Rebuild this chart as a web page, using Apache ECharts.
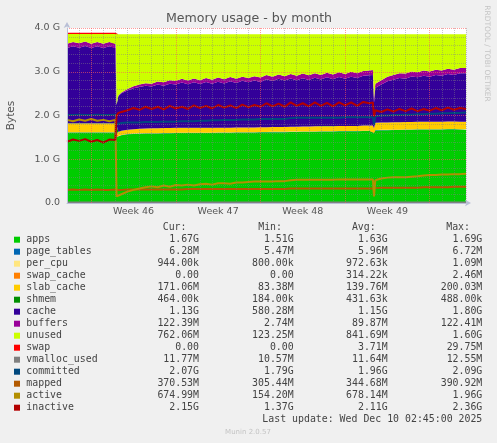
<!DOCTYPE html>
<html>
<head>
<meta charset="utf-8">
<script src="https://cdn.jsdelivr.net/npm/echarts@6/dist/echarts.min.js"></script>
<style>
html,body{margin:0;padding:0;background:#F0F0F0;}
#chart{width:497px;height:443px;}
</style>
</head>
<body>
<div id="chart"></div>
<script>
// time in days relative to Monday of week 46 (start of "Week 46")
const T = [-2,-1.5,-1,-0.5,0,0.5,1,1.5,2,2.05,2.1,2.25,2.5,3,3.5,4,4.5,5,5.5,6,6.5,7,7.5,8,8.5,9,9.5,10,10.5,11,11.5,12,12.5,13,13.5,14,14.5,15,15.5,16,16.5,17,17.5,18,18.5,19,19.5,20,20.5,21,21.5,22,22.5,23,23.3,23.39,23.5,24,24.5,25,25.5,26,26.5,27,27.5,28,28.5,29,29.5,30,30.5,31];

// values in GiB
const apps = [1.61,1.61,1.61,1.61,1.61,1.61,1.61,1.61,1.61,1.61,
  1.51,1.53,1.55,1.57,1.58,1.585,1.59,1.59,1.59,1.595,1.595,1.60,1.60,1.60,1.60,1.60,1.60,1.60,1.605,1.605,1.605,1.61,1.61,1.61,1.61,1.615,1.615,1.62,1.62,1.62,1.625,1.625,1.63,1.63,1.63,1.635,1.635,1.635,1.64,1.64,1.64,1.64,1.645,1.645,1.645,1.60,1.66,1.665,1.665,1.67,1.67,1.675,1.675,1.68,1.68,1.68,1.68,1.68,1.685,1.685,1.68,1.677];
const pageTables = [0.0065,0.0065,0.0065,0.0065,0.0065,0.0065,0.0065,0.0065,0.0065,0.0065,
  0.0055,0.0055,0.0056,0.0057,0.0057,0.0058,0.0058,0.0058,0.0058,0.0059,0.0059,0.0059,0.0059,0.0059,0.0059,0.006,0.006,0.006,0.006,0.006,0.006,0.006,0.006,0.006,0.006,0.006,0.006,0.006,0.006,0.006,0.006,0.006,0.006,0.006,0.006,0.006,0.006,0.006,0.006,0.006,0.006,0.006,0.006,0.006,0.006,0.0058,0.0062,0.0062,0.0062,0.0062,0.0062,0.0062,0.0062,0.0062,0.0063,0.0063,0.0063,0.0063,0.0063,0.0063,0.0063,0.0063];
const perCpu = [0.001,0.001,0.001,0.001,0.001,0.001,0.001,0.001,0.001,0.001,
  0.0008,0.0008,0.0009,0.0009,0.0009,0.001,0.001,0.001,0.001,0.001,0.001,0.001,0.001,0.001,0.001,0.001,0.001,0.001,0.001,0.001,0.001,0.001,0.001,0.001,0.001,0.001,0.001,0.001,0.001,0.001,0.001,0.001,0.001,0.001,0.001,0.001,0.001,0.001,0.001,0.001,0.001,0.001,0.001,0.001,0.001,0.0009,0.0009,0.0009,0.0009,0.0009,0.0009,0.0009,0.0009,0.0009,0.0009,0.0009,0.0009,0.0009,0.0009,0.0009,0.0009,0.0009];
const swapCache = [0.0024,0.0024,0.0023,0.0024,0.0024,0.0023,0.0024,0.0024,0.0024,0.0024,
  0,0,0,0,0,0,0,0,0,0,0,0,0,0,0,0,0,0,0,0,0,0,0,0,0,0,0,0,0,0,0,0,0,0,0,0,0,0,0,0,0,0,0,0,0,0,0,0,0,0,0,0,0,0,0,0,0,0,0,0,0,0];
const slabCache = [0.20,0.20,0.20,0.20,0.20,0.20,0.20,0.20,0.20,0.20,
  0.085,0.09,0.095,0.10,0.10,0.105,0.105,0.11,0.11,0.11,0.11,0.11,0.11,0.11,0.11,0.11,0.11,0.11,0.11,0.11,0.11,0.11,0.11,0.11,0.11,0.11,0.11,0.11,0.11,0.11,0.11,0.11,0.11,0.11,0.115,0.115,0.115,0.115,0.115,0.115,0.115,0.115,0.12,0.12,0.12,0.10,0.165,0.17,0.17,0.17,0.17,0.17,0.17,0.17,0.17,0.17,0.17,0.17,0.17,0.17,0.17,0.171];
const shmem = [0.0005,0.0005,0.0005,0.0005,0.0005,0.0005,0.0005,0.0005,0.0005,0.0005,
  0.0002,0.0002,0.0003,0.0003,0.0003,0.0004,0.0004,0.0004,0.0004,0.0004,0.0004,0.0004,0.0004,0.0004,0.0004,0.0004,0.0004,0.0004,0.0004,0.0004,0.0004,0.0004,0.0004,0.0004,0.0004,0.0004,0.0004,0.0004,0.0004,0.0004,0.0004,0.0004,0.0004,0.0004,0.0004,0.0004,0.0004,0.0004,0.0004,0.0004,0.0004,0.0004,0.0004,0.0004,0.0004,0.0004,0.00045,0.00045,0.00045,0.00045,0.00045,0.00045,0.00045,0.00045,0.00045,0.00045,0.00045,0.00045,0.00045,0.00045,0.00045,0.00045];
const cache = [1.72,1.76,1.73,1.77,1.72,1.76,1.72,1.76,1.73,1.71,
  0.64,0.82,0.855,0.895,0.935,0.955,0.975,0.955,1.00,0.97,1.015,0.99,1.035,0.995,1.04,1.00,1.05,1.01,1.05,1.01,1.06,1.015,1.065,1.03,1.07,1.035,1.095,1.05,1.10,1.06,1.105,1.065,1.105,1.065,1.11,1.065,1.115,1.07,1.115,1.075,1.125,1.095,1.135,1.145,1.155,0.58,0.80,0.865,0.94,0.97,1.01,0.99,1.04,1.015,1.05,1.03,1.07,1.05,1.085,1.065,1.108,1.11];
const buffers = [0.10,0.10,0.10,0.10,0.10,0.10,0.10,0.10,0.10,0.10,
  0.003,0.01,0.02,0.035,0.045,0.055,0.06,0.065,0.07,0.075,0.08,0.08,0.085,0.085,0.09,0.09,0.09,0.09,0.095,0.095,0.095,0.095,0.095,0.10,0.10,0.10,0.10,0.10,0.10,0.10,0.10,0.10,0.105,0.105,0.105,0.105,0.105,0.11,0.11,0.11,0.11,0.11,0.11,0.11,0.11,0.09,0.095,0.10,0.105,0.11,0.11,0.115,0.115,0.115,0.12,0.12,0.12,0.12,0.12,0.12,0.122,0.122];
const unused = [0.22,0.18,0.21,0.17,0.22,0.18,0.22,0.18,0.21,0.23,
  1.61,1.40,1.33,1.25,1.19,1.15,1.12,1.13,1.08,1.10,1.05,1.07,1.02,1.06,1.01,1.05,1.00,1.04,0.99,1.03,0.98,1.02,0.97,1.00,0.96,0.99,0.93,0.97,0.92,0.96,0.91,0.95,0.90,0.94,0.89,0.93,0.88,0.92,0.87,0.91,0.86,0.89,0.84,0.83,0.82,1.48,1.13,1.05,0.97,0.93,0.89,0.90,0.85,0.87,0.83,0.85,0.81,0.83,0.79,0.81,0.77,0.77];
const swap = [0.03,0.03,0.03,0.03,0.03,0.03,0.03,0.03,0.03,0.03,
  0,0,0,0,0,0,0,0,0,0,0,0,0,0,0,0,0,0,0,0,0,0,0,0,0,0,0,0,0,0,0,0,0,0,0,0,0,0,0,0,0,0,0,0,0,0,0,0,0,0,0,0,0,0,0,0,0,0,0,0,0,0];
const vmallocUsed = [0.0122,0.0122,0.0122,0.0122,0.0122,0.0122,0.0122,0.0122,0.0122,0.0122,
  0.0103,0.0104,0.0106,0.0108,0.011,0.0112,0.0113,0.0114,0.0114,0.0115,0.0115,0.0115,0.0116,0.0116,0.0116,0.0116,0.0116,0.0116,0.0116,0.0116,0.0116,0.0116,0.0116,0.0116,0.0116,0.0116,0.0116,0.0116,0.0116,0.0116,0.0116,0.0116,0.0116,0.0116,0.0116,0.0116,0.0116,0.0116,0.0116,0.0116,0.0116,0.0116,0.0116,0.0116,0.0116,0.011,0.0115,0.0115,0.0115,0.0115,0.0115,0.0115,0.0115,0.0115,0.0115,0.0115,0.0115,0.0115,0.0115,0.0115,0.0115,0.0115];
const committed = [2.01,2.01,2.02,2.01,2.01,2.02,2.01,2.01,2.02,2.01,
  1.80,1.81,1.83,1.84,1.84,1.84,1.85,1.85,1.85,1.86,1.86,1.86,1.87,1.87,1.87,1.88,1.88,1.89,1.89,1.90,1.90,1.90,1.91,1.91,1.91,1.92,1.92,1.92,1.92,1.92,1.94,1.95,1.95,1.95,1.95,1.95,1.95,1.95,1.95,1.96,1.96,1.96,1.96,1.96,1.96,1.79,1.98,2.00,2.00,2.01,2.01,2.02,2.02,2.03,2.03,2.04,2.04,2.05,2.05,2.06,2.06,2.07];
const mapped = [0.30,0.31,0.30,0.31,0.30,0.31,0.30,0.30,0.31,0.31,
  0.30,0.30,0.30,0.31,0.31,0.31,0.31,0.31,0.31,0.31,0.31,0.31,0.31,0.32,0.32,0.32,0.32,0.32,0.32,0.32,0.32,0.32,0.32,0.32,0.32,0.32,0.32,0.32,0.32,0.32,0.33,0.33,0.33,0.33,0.33,0.33,0.33,0.33,0.33,0.33,0.33,0.33,0.33,0.33,0.33,0.31,0.34,0.35,0.35,0.35,0.35,0.35,0.35,0.35,0.36,0.36,0.36,0.36,0.36,0.37,0.37,0.37];
const active = [1.90,1.87,1.91,1.88,1.92,1.88,1.90,1.87,1.90,1.90,
  0.15,0.16,0.20,0.26,0.30,0.33,0.36,0.38,0.36,0.40,0.37,0.41,0.40,0.42,0.40,0.43,0.44,0.42,0.45,0.45,0.44,0.47,0.47,0.48,0.49,0.49,0.49,0.49,0.50,0.50,0.52,0.53,0.53,0.53,0.53,0.53,0.53,0.53,0.54,0.54,0.54,0.54,0.54,0.54,0.54,0.15,0.52,0.56,0.58,0.59,0.59,0.59,0.60,0.61,0.63,0.64,0.64,0.65,0.65,0.66,0.66,0.67];
const inactive = [1.40,1.45,1.42,1.46,1.40,1.44,1.38,1.45,1.44,1.45,
  2.00,2.06,2.08,2.12,2.17,2.13,2.20,2.15,2.20,2.14,2.22,2.16,2.20,2.15,2.23,2.17,2.22,2.16,2.24,2.18,2.23,2.17,2.25,2.19,2.24,2.20,2.28,2.21,2.27,2.20,2.30,2.22,2.28,2.21,2.30,2.22,2.29,2.21,2.30,2.23,2.30,2.22,2.31,2.28,2.30,1.98,2.12,2.08,2.14,2.09,2.15,2.10,2.16,2.10,2.15,2.11,2.17,2.12,2.18,2.13,2.17,2.15];

// axis labels
const weekLabels = ['Week 46','Week 47','Week 48','Week 49'];
const yTickLabels = ['0.0','1.0 G','2.0 G','3.0 G','4.0 G'];

// legend table
const legendNames = ['apps','page_tables','per_cpu','swap_cache','slab_cache','shmem','cache','buffers','unused','swap','vmalloc_used','committed','mapped','active','inactive'];
const legendColors = ['#00CC00','#0066B3','#FFE680','#FF8000','#FFCC00','#008F00','#330099','#990099','#CCFF00','#FF0000','#808080','#00487D','#B35A00','#B38F00','#B30000'];
const curVals = ['1.67G','6.28M','944.00k','0.00','171.06M','464.00k','1.13G','122.39M','762.06M','0.00','11.77M','2.07G','370.53M','674.99M','2.15G'];
const minVals = ['1.51G','5.47M','800.00k','0.00','83.38M','184.00k','580.28M','2.74M','123.25M','0.00','10.57M','1.79G','305.44M','154.20M','1.37G'];
const avgVals = ['1.63G','5.96M','972.63k','314.22k','139.76M','431.63k','1.15G','89.87M','841.69M','3.71M','11.64M','1.96G','344.68M','678.14M','2.11G'];
const maxVals = ['1.69G','6.72M','1.09M','2.46M','200.03M','488.00k','1.80G','122.41M','1.60G','29.75M','12.55M','2.09G','390.92M','1.96G','2.36G'];
const colHeaders = ['Cur:','Min:','Avg:','Max:'];

const areaData = [apps,pageTables,perCpu,swapCache,slabCache,shmem,cache,buffers,unused,swap];
const lineData = [vmallocUsed,committed,mapped,active,inactive];

const chart = echarts.init(document.getElementById('chart'), null, {renderer:'canvas'});

const G = 'rgba(130,130,130,0.45)';
const R = 'rgba(255,90,90,0.6)';
const TR = 'rgba(0,0,0,0)';

const series = [];
areaData.forEach((arr, k) => {
  // value first so that the stack is applied to the value dimension (y)
  series.push({
    name: legendNames[k], type:'line', stack:'mem', stackStrategy:'all', symbol:'none', showSymbol:false,
    data: T.map((t,i)=>[arr[i], t]),
    encode:{x:1, y:0},
    lineStyle:{width:0}, areaStyle:{color:legendColors[k], opacity:1},
    itemStyle:{color:legendColors[k]}, z:2, silent:true
  });
});
lineData.forEach((arr, k) => {
  const idx = 10 + k;
  series.push({
    name: legendNames[idx], type:'line', symbol:'none', showSymbol:false,
    data: T.map((t,i)=>[t, arr[i]]),
    lineStyle:{width:2, color:legendColors[idx]}, itemStyle:{color:legendColors[idx]}, z:2, silent:true
  });
});

const FONT = 'DejaVu Sans, sans-serif';
const MONO = 'DejaVu Sans Mono, monospace';
const TXT = '#444';

const graphics = [];
graphics.push({type:'text', x:249, y:19, style:{text:'Memory usage - by month', font:'12.6px '+FONT, fill:'#555', align:'center', verticalAlign:'middle', textAlign:'center', textVerticalAlign:'middle'}});
graphics.push({type:'text', x:11, y:115.5, rotation:Math.PI/2, style:{text:'Bytes', font:'10.5px '+FONT, fill:'#555', align:'center', verticalAlign:'middle', textAlign:'center', textVerticalAlign:'middle'}});
graphics.push({type:'text', x:487, y:53.5, rotation:-Math.PI/2, style:{text:'RRDTOOL / TOBI OETIKER', font:'7.5px '+FONT, fill:'#c4c4c4', align:'center', verticalAlign:'middle', textAlign:'center', textVerticalAlign:'middle'}});

const colRight = [199, 293.7, 387.7, 482.3];
const headRight = [186.5, 282, 375.7, 470];
colHeaders.forEach((h, c) => {
  graphics.push({type:'text', x:headRight[c], y:227.7, style:{text:h, font:'9.9px '+MONO, fill:TXT, align:'right', verticalAlign:'middle', textAlign:'right', textVerticalAlign:'middle'}});
});
const cols = [curVals, minVals, avgVals, maxVals];
legendNames.forEach((n, i) => {
  const y = 239.7 + 12 * i;
  graphics.push({type:'rect', shape:{x:14, y:y-3, width:6, height:6}, style:{fill:legendColors[i]}});
  graphics.push({type:'text', x:26.3, y:y, style:{text:n, font:'9.9px '+MONO, fill:TXT, align:'left', verticalAlign:'middle', textAlign:'left', textVerticalAlign:'middle'}});
  cols.forEach((col, c) => {
    graphics.push({type:'text', x:colRight[c], y:y, style:{text:col[i], font:'9.9px '+MONO, fill:TXT, align:'right', verticalAlign:'middle', textAlign:'right', textVerticalAlign:'middle'}});
  });
});
graphics.push({type:'text', x:482.3, y:419.3, style:{text:'Last update: Wed Dec 10 02:45:00 2025', font:'9.9px '+MONO, fill:TXT, align:'right', verticalAlign:'middle', textAlign:'right', textVerticalAlign:'middle'}});
graphics.push({type:'text', x:248, y:432, style:{text:'Munin 2.0.57', font:'7px '+FONT, fill:'#c4c4c4', align:'center', verticalAlign:'middle', textAlign:'center', textVerticalAlign:'middle'}});

const option = {
  animation:false,
  backgroundColor:'#F0F0F0',
  grid:{left:67, top:28, width:399, height:175, show:true, backgroundColor:'#FFFFFF', borderWidth:0},
  xAxis:{
    type:'value', min:-2, max:31, interval:0.5, z:3,
    axisLine:{show:true, onZero:false, lineStyle:{color:'#b9bfd6', width:1}, symbol:['none','arrow'], symbolSize:[5,6], symbolOffset:[0,5]},
    axisTick:{show:false},
    axisLabel:{show:true, margin:4, color:'#555', fontFamily:FONT, fontSize:9.5,
      formatter:function(v){ const k=(v-3.5)/7; const r=Math.round(k); if (Math.abs(k-r)<1e-6 && r>=0 && r<weekLabels.length) return weekLabels[r]; return ''; }},
    splitLine:{show:true, lineStyle:{color:[G,TR,G,TR,R,TR,G,TR,G,TR,G,TR,G,TR], width:1, type:[1,1]}}
  },
  yAxis:{
    type:'value', min:0, max:4, interval:0.2, z:3,
    axisLine:{show:true, onZero:false, lineStyle:{color:'#b9bfd6', width:1}, symbol:['none','arrow'], symbolSize:[5,6], symbolOffset:[0,6]},
    axisTick:{show:false},
    axisLabel:{show:true, margin:7, color:'#555', fontFamily:FONT, fontSize:9.5,
      formatter:function(v){ const k=Math.round(v); if (Math.abs(v-k)<1e-6) return yTickLabels[k]; return ''; }},
    splitLine:{show:true, lineStyle:{color:[R,G,G,G,G], width:1, type:[1,1]}}
  },
  series: series,
  graphic: graphics
};
chart.setOption(option);
</script>
</body>
</html>
